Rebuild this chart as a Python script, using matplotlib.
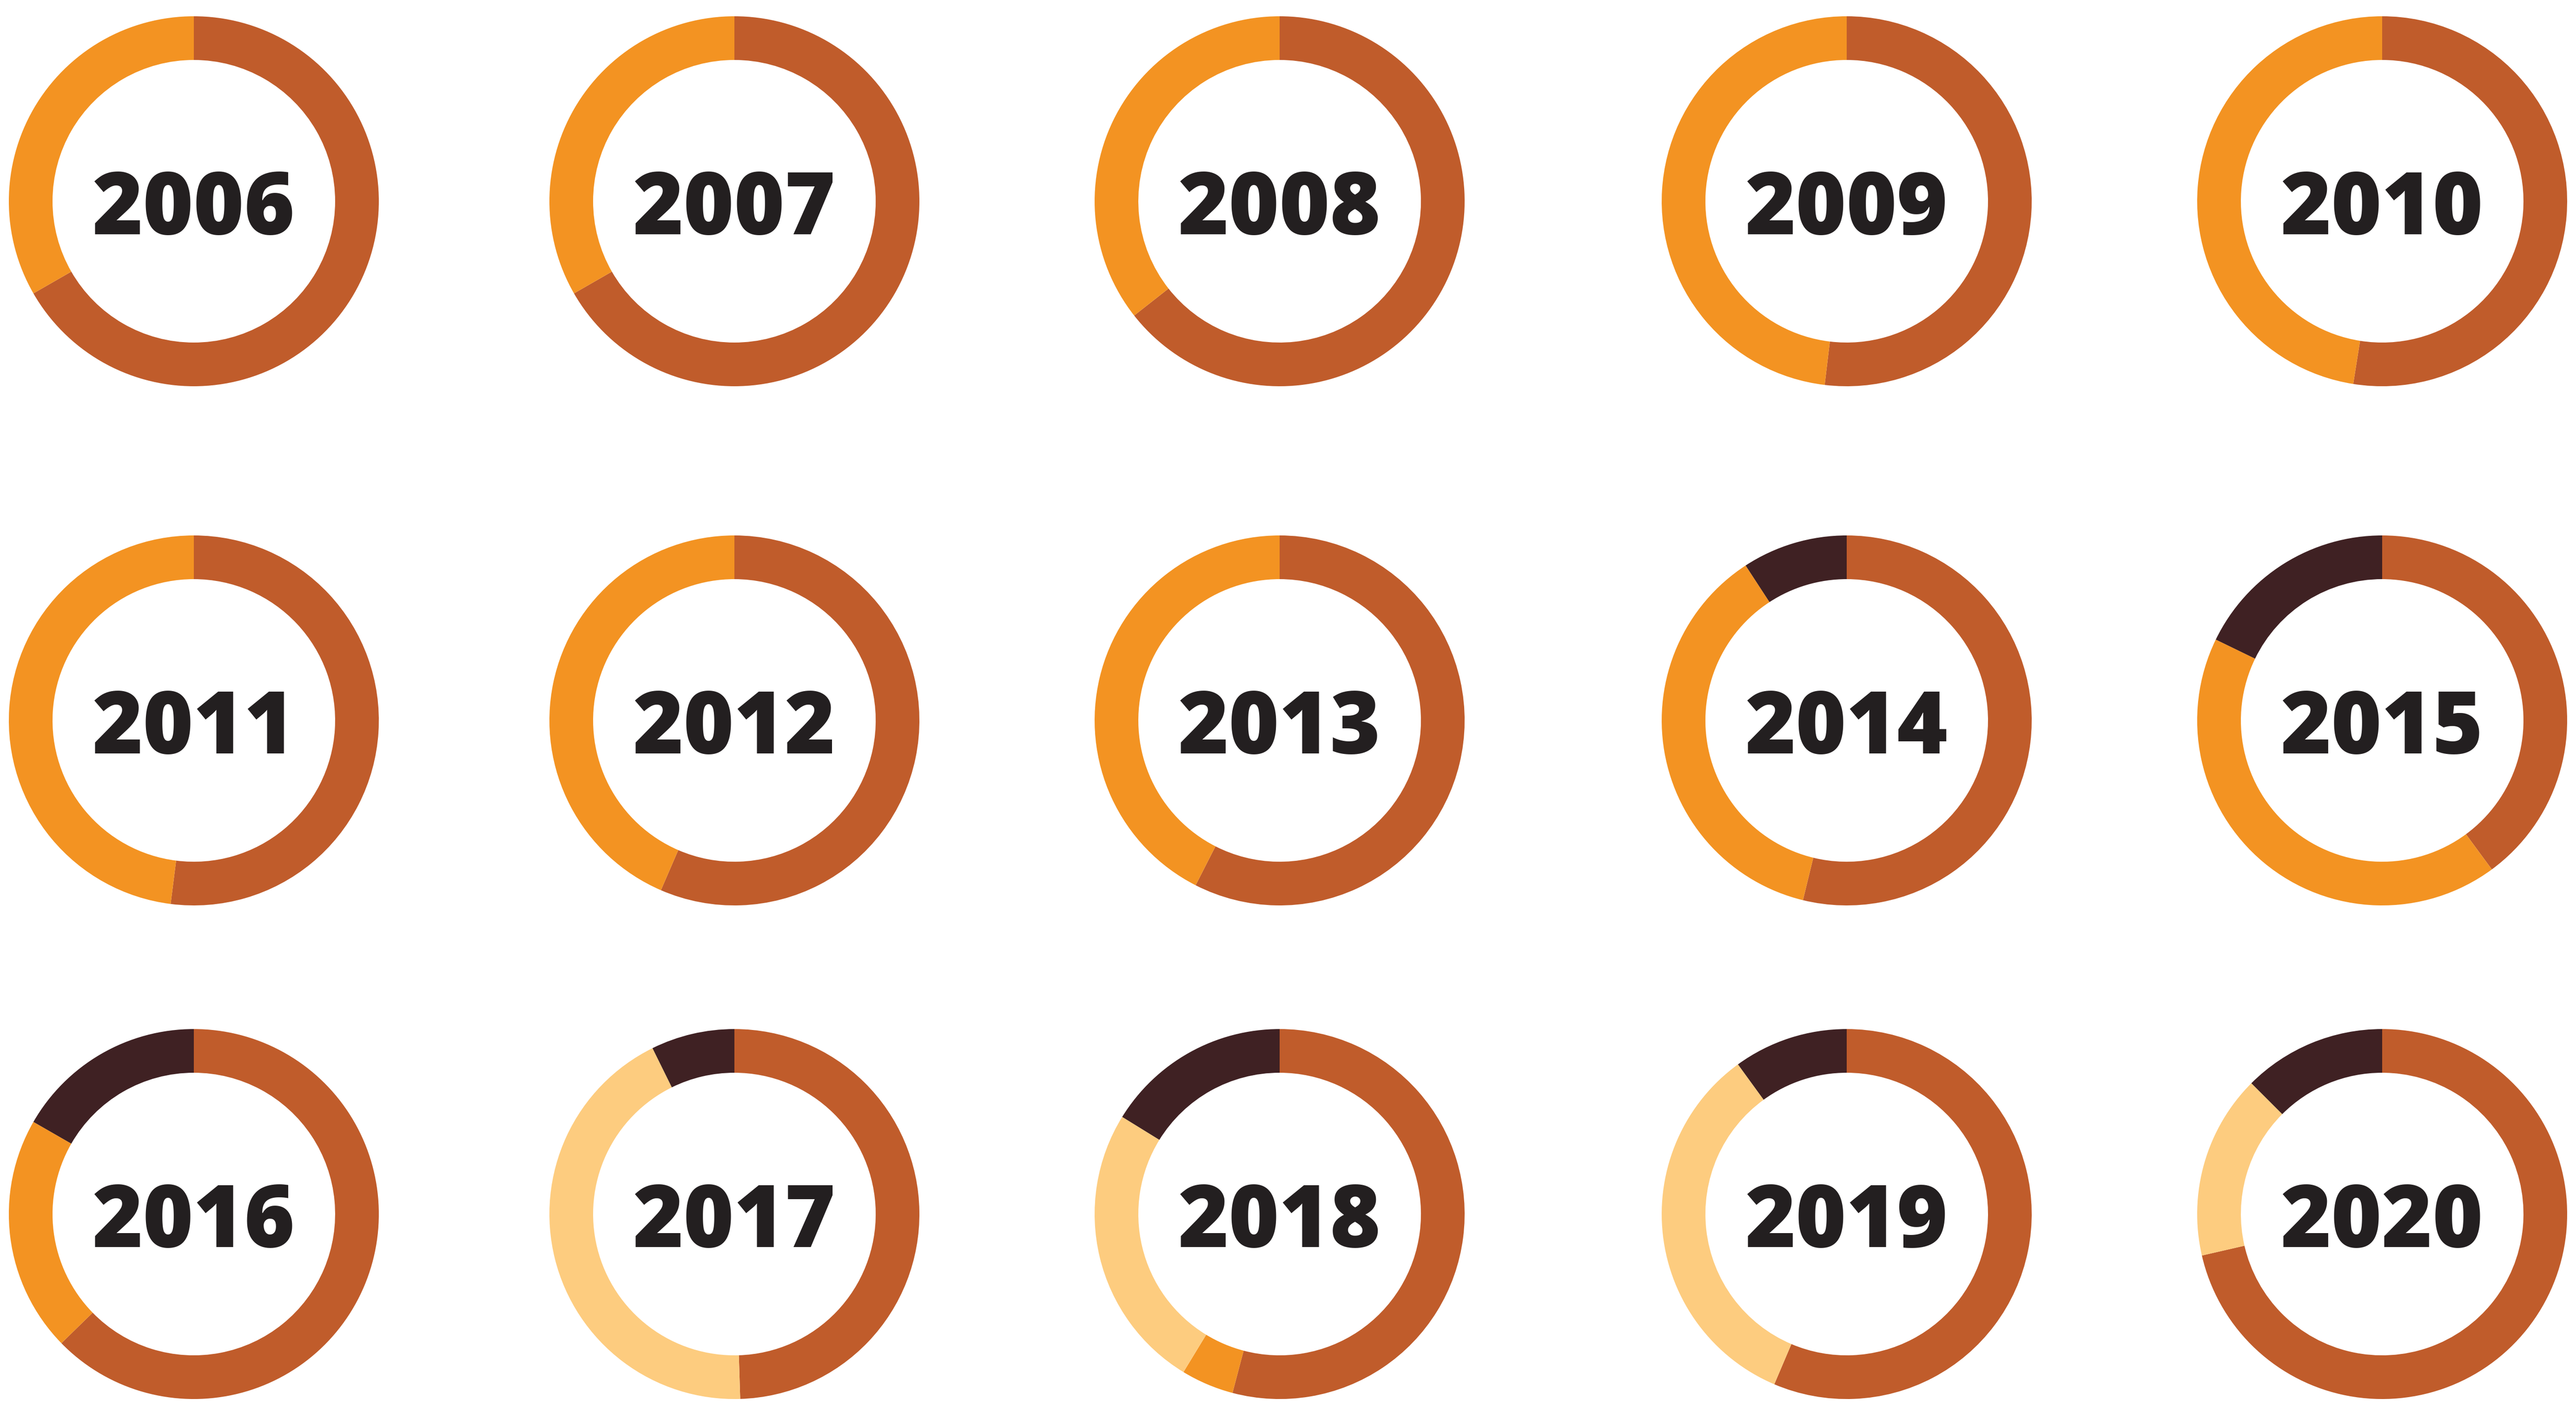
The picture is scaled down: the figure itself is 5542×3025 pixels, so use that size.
import matplotlib
matplotlib.use("Agg")
import matplotlib.pyplot as plt

# share of each year, clockwise from 12 o'clock: brown, orange, light orange, dark
years = [2006, 2007, 2008, 2009, 2010,
         2011, 2012, 2013, 2014, 2015,
         2016, 2017, 2018, 2019, 2020]
brown = [66.7, 66.7, 64.4, 51.9, 52.5,
         52.0, 56.5, 57.5, 53.8, 39.9,
         62.7, 49.5, 54.1, 56.4, 71.4]
orange = [33.3, 33.3, 35.6, 48.1, 47.5,
          48.0, 43.5, 42.5, 37.0, 42.3,
          20.6, 0.0, 4.6, 0.0, 0.0]
light = [0.0, 0.0, 0.0, 0.0, 0.0,
         0.0, 0.0, 0.0, 0.0, 0.0,
         0.0, 43.2, 25.1, 33.6, 16.1]
dark = [0.0, 0.0, 0.0, 0.0, 0.0,
        0.0, 0.0, 0.0, 9.2, 17.8,
        16.7, 7.3, 16.2, 10.0, 12.5]

colors = ["#c05c2b", "#f39322", "#fdcc7f", "#3f2123"]

W, H = 5542, 3025
col_x = [417, 1580, 2753, 3973, 5125]
row_y = [433, 1550, 2612]
R = 398
ring = 94

fig = plt.figure(figsize=(W / 100, H / 100), dpi=100)
ax = fig.add_axes([0, 0, 1, 1])

for i, yr in enumerate(years):
    cx = col_x[i % 5]
    cy = H - row_y[i // 5]
    vals = [brown[i], orange[i], light[i], dark[i]]
    keep = [(v, c) for v, c in zip(vals, colors) if v > 0]
    ax.pie([v for v, c in keep], colors=[c for v, c in keep],
           startangle=90, counterclock=False, radius=R, center=(cx, cy),
           frame=True, wedgeprops=dict(width=ring, linewidth=0))
    ax.text(cx, cy, str(yr), ha="center", va="center_baseline",
            fontsize=134, fontweight=800, family=["Open Sans", "DejaVu Sans"],
            color="#231f20")

ax.set_xlim(0, W)
ax.set_ylim(0, H)
ax.set_aspect("equal")
ax.axis("off")

fig.savefig("out.png", dpi=100, facecolor="white")
